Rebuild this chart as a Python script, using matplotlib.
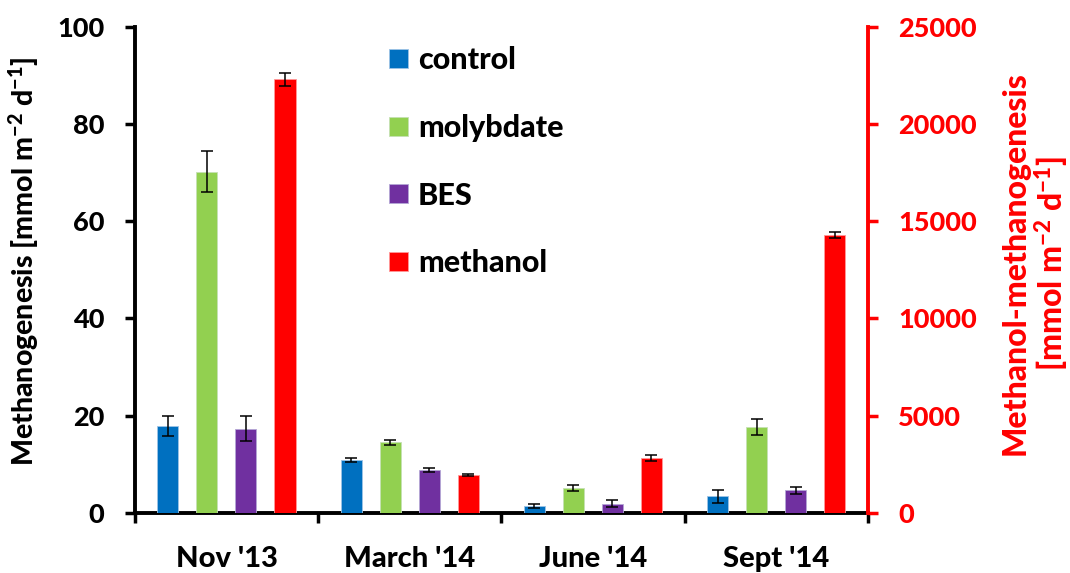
import matplotlib
matplotlib.use("Agg")
import matplotlib.pyplot as plt
import numpy as np
from matplotlib.patches import Patch

groups = ["Nov '13", "March '14", "June '14", "Sept '14"]
series = ["control", "molybdate", "BES", "methanol"]
control = [17.9, 10.8, 1.4, 3.4]
control_err = [2.1, 0.4, 0.4, 1.4]
molybdate = [70.2, 14.5, 5.1, 17.7]
molybdate_err = [4.2, 0.5, 0.6, 1.7]
bes = [17.3, 8.8, 1.9, 4.6]
bes_err = [2.6, 0.4, 0.8, 0.8]
methanol = [22300, 1950, 2840, 14300]
methanol_err = [330, 40, 150, 140]
left_ticks = [0, 20, 40, 60, 80, 100]
right_ticks = [0, 5000, 10000, 15000, 20000, 25000]

colors = ["#0070C0", "#92D050", "#7030A0", "#FF0000"]
edge = ["#9DC3E6", "#C5E0B4", "#B4A7D6", "#FF9999"]

plt.rcParams['font.family'] = ['Lato', 'DejaVu Sans']
plt.rcParams['font.weight'] = 'black'
plt.rcParams['mathtext.default'] = 'regular'
W = 'black'

fig = plt.figure(figsize=(10.7, 5.73), dpi=100)
ax = fig.add_axes([0.126, 0.105, 0.685, 0.848])
ax2 = ax.twinx()

x = np.arange(len(groups)) + 0.5
w = 0.115
sp = 0.213
offs = [-1.5 * sp, -0.5 * sp, 0.5 * sp, 1.5 * sp]
ekw = dict(ecolor="black", elinewidth=1.1, capsize=4.5, capthick=1.1)

left_data = [(control, control_err), (molybdate, molybdate_err), (bes, bes_err)]
for i, (vals, errs) in enumerate(left_data):
    ax.bar(x + offs[i], vals, w, color=colors[i], edgecolor=edge[i], linewidth=0.6,
           yerr=errs, error_kw=ekw, zorder=3)
ax2.bar(x + offs[3], methanol, w, color=colors[3], edgecolor=edge[3], linewidth=0.6,
        yerr=methanol_err, error_kw=ekw, zorder=3)

ax.set_xlim(0, 4)
ax.set_ylim(0, 100)
ax2.set_ylim(0, 25000)
ax.set_yticks(left_ticks)
ax2.set_yticks(right_ticks)

ax.set_xticks([0, 1, 2, 3, 4])
ax.set_xticklabels([])
ax.set_xticks(x, minor=True)
ax.set_xticklabels(groups, minor=True, fontweight=W)
ax.tick_params(axis='x', which='major', direction='out', length=7, width=2.5, color='black')
ax.tick_params(axis='x', which='minor', length=0, pad=24, labelsize=21)
ax.tick_params(axis='y', direction='out', length=7, width=2.5, labelsize=19.5, pad=15)
ax2.tick_params(axis='y', direction='out', length=7, width=2.5, labelsize=19.5,
                colors='#FF0000', pad=15)
for lab in ax.get_yticklabels() + ax2.get_yticklabels():
    lab.set_fontweight(W)

for a in (ax, ax2):
    a.spines['top'].set_visible(False)
ax.spines['left'].set_linewidth(2.8)
ax.spines['bottom'].set_linewidth(2.8)
ax.spines['right'].set_visible(False)
ax2.spines['left'].set_visible(False)
ax2.spines['bottom'].set_visible(False)
ax2.spines['right'].set_linewidth(2.8)
ax2.spines['right'].set_color('#FF0000')

ax.set_ylabel("Methanogenesis [mmol m$^{-2}$ d$^{-1}$]", fontsize=20.5, fontweight=W)
ax.yaxis.set_label_coords(-0.128, 0.518)
ax2.set_ylabel("Methanol-methanogenesis\n[mmol m$^{-2}$ d$^{-1}$]", fontsize=23,
               fontweight=W, color='#FF0000', rotation=90, linespacing=1.1)
ax2.yaxis.set_label_coords(1.181, 0.514)

handles = [Patch(facecolor=c, edgecolor=e, linewidth=0.6) for c, e in zip(colors, edge)]
ax.legend(handles, series, loc='upper left', bbox_to_anchor=(0.309, 1.017), frameon=False,
          prop={'size': 22, 'weight': W}, handlelength=0.62, handleheight=0.58,
          handletextpad=0.33, labelspacing=1.3)

fig.savefig("out.png", dpi=100)
